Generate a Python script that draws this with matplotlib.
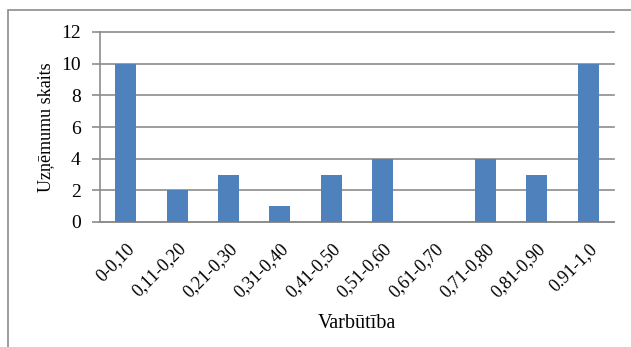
import matplotlib
matplotlib.use('Agg')
import matplotlib.pyplot as plt
import matplotlib.transforms as mtransforms
from matplotlib.patches import Rectangle

categories = ['0-0,10', '0,11-0,20', '0,21-0,30', '0,31-0,40', '0,41-0,50',
              '0,51-0,60', '0,61-0,70', '0,71-0,80', '0,81-0,90', '0.91-1,0']
counts = [10, 2, 3, 1, 3, 4, 0, 4, 3, 10]
y_ticks = [0, 2, 4, 6, 8, 10, 12]

plt.rcParams['font.family'] = ['Liberation Serif', 'DejaVu Serif']

W, H = 631, 347
fig = plt.figure(figsize=(W / 100, H / 100), dpi=100)
ax = fig.add_axes([100 / W, 1 - 222 / H, 514 / W, 190 / H])

# outer chart frame (only left and top edges fall inside the canvas)
fig.patches.append(Rectangle((8 / W, -0.1), 1.2, 1 - 10 / H + 0.1,
                             transform=fig.transFigure, fill=False,
                             edgecolor='#8c8c8c', linewidth=1.2))

x = range(len(categories))
ax.bar(x, counts, width=0.41, color='#4f81bd', zorder=3)

ax.set_xlim(-0.5, len(categories) - 0.5)
ax.set_ylim(0, 12)
ax.set_yticks(y_ticks)
ax.yaxis.grid(True, color='#8c8c8c', linewidth=1.2, zorder=0)
for gl in ax.get_ygridlines():
    gl.set_clip_on(False)

ax.set_xticks(list(x))
ax.set_xticklabels(categories, rotation=45, ha='right', va='top',
                   rotation_mode='anchor', fontsize=13)
shift = mtransforms.ScaledTranslation(-7 / 100, 0, fig.dpi_scale_trans)
for lbl in ax.get_xticklabels():
    lbl.set_transform(lbl.get_transform() + shift)
ax.tick_params(axis='x', length=0, pad=13)
ax.tick_params(axis='y', length=6, color='#8c8c8c', width=1.2,
               labelsize=14, pad=8)

for side in ('top', 'right'):
    ax.spines[side].set_visible(False)
for side in ('left', 'bottom'):
    ax.spines[side].set_color('#8c8c8c')
    ax.spines[side].set_linewidth(1.2)

ax.set_ylabel('Uzņēmumu skaits', fontsize=13, labelpad=5)
ax.set_xlabel('Varbūtība', fontsize=14.5, labelpad=10)

fig.savefig('out.png', dpi=100)
